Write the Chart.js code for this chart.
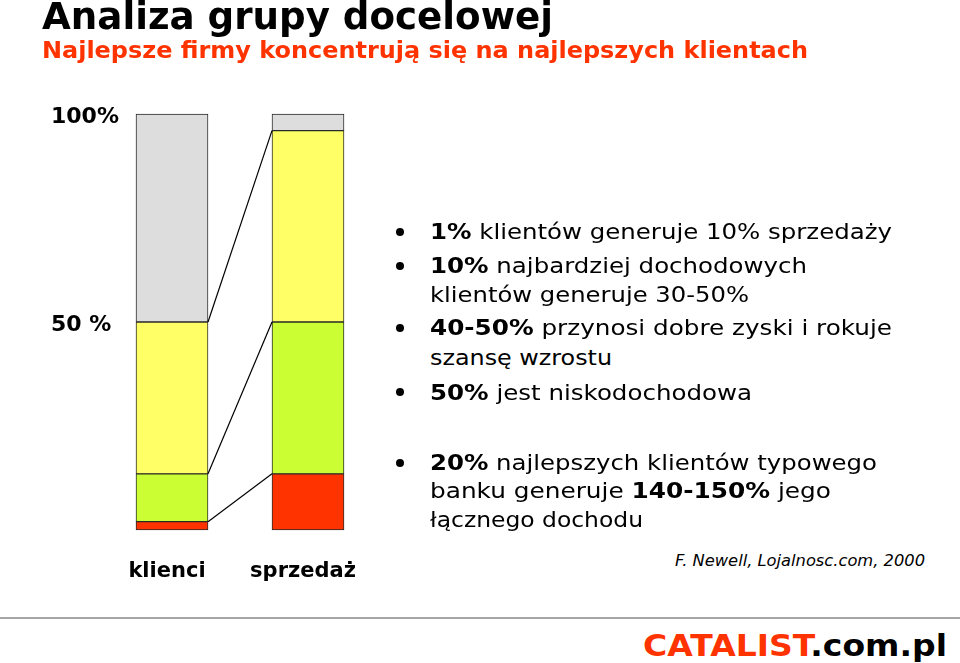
<!DOCTYPE html>
<html>
<head>
<meta charset="utf-8">
<script src="https://cdn.jsdelivr.net/npm/chart.js@4.4.1/dist/chart.umd.min.js"></script>
<style>
  html, body { margin: 0; padding: 0; background: #fff; }
  body { width: 960px; height: 663px; position: relative; overflow: hidden; font-family: "DejaVu Sans", Verdana, sans-serif; color: #000; }
  .t { position: absolute; white-space: nowrap; line-height: normal; transform-origin: 0 0; }
  .b { font-weight: bold; }
  .red { color: #ff3300; }
  .dot { position: absolute; width: 8px; height: 8px; border-radius: 50%; background: #000; }
  #wrap { position: absolute; left: 0; top: 0; width: 400px; height: 663px; }
  #rule { position: absolute; left: 0; top: 617px; width: 960px; height: 2px; background: #a6a6a6; }
</style>
</head>
<body>
<div id="wrap"><canvas id="c"></canvas></div>

<div class="t b" style="font-size:37px" data-x="42" data-b="29.5" data-w="511">Analiza grupy docelowej</div>
<div class="t b red" style="font-size:23px" data-x="42" data-b="58.5" data-w="766">Najlepsze firmy koncentrują się na najlepszych klientach</div>

<div class="dot" style="left:396px;top:228px"></div>
<div class="t" style="font-size:21px" data-x="430" data-b="239" data-w="462"><b>1%</b> klientów generuje 10% sprzedaży</div>
<div class="dot" style="left:396px;top:262px"></div>
<div class="t" style="font-size:21px" data-x="430" data-b="273" data-w="377"><b>10%</b> najbardziej dochodowych</div>
<div class="t" style="font-size:21px" data-x="430" data-b="302" data-w="319">klientów generuje 30-50%</div>
<div class="dot" style="left:396px;top:324px"></div>
<div class="t" style="font-size:21px" data-x="430" data-b="335" data-w="462"><b>40-50%</b> przynosi dobre zyski i rokuje</div>
<div class="t" style="font-size:21px" data-x="430" data-b="365" data-w="182">szansę wzrostu</div>
<div class="dot" style="left:396px;top:388px"></div>
<div class="t" style="font-size:21px" data-x="430" data-b="400" data-w="322"><b>50%</b> jest niskodochodowa</div>

<div class="dot" style="left:396px;top:459px"></div>
<div class="t" style="font-size:21px" data-x="430" data-b="470" data-w="447"><b>20%</b> najlepszych klientów typowego</div>
<div class="t" style="font-size:21px" data-x="430" data-b="498" data-w="401">banku generuje <b>140-150%</b> jego</div>
<div class="t" style="font-size:21px" data-x="430" data-b="527" data-w="213">łącznego dochodu</div>

<div class="t" style="font-size:16px;font-style:italic" data-x="675" data-b="566" data-w="250">F. Newell, Lojalnosc.com, 2000</div>

<div id="rule"></div>
<div class="t b" style="font-size:31px" data-x="643" data-b="655.5" data-w="304"><span class="red">CATALIST</span>.com.pl</div>

<script>
// ---- data ----
const categories = ['klienci', 'sprzedaż'];
const seriesNames = ['niskie', 'średnie', 'wysokie', 'najwyższe'];
const redValues    = [2, 13.5];    // bottom segment
const greenValues  = [11.5, 36.5];
const yellowValues = [36.5, 46];
const grayValues   = [50, 4];      // top segment
const yTickValues  = [50, 100];
const yTickLabels  = ['50 %', '100%'];

// ---- text placement (baseline + width fit) ----
document.querySelectorAll('.t').forEach(el => {
  const fs = parseFloat(el.style.fontSize);
  el.style.left = el.dataset.x + 'px';
  el.style.top = (parseFloat(el.dataset.b) - 0.928 * fs) + 'px';
});
function fitText() {
  document.querySelectorAll('.t').forEach(el => {
    el.style.transform = 'none';
    const w = el.getBoundingClientRect().width;
    el.style.transform = 'scaleX(' + (parseFloat(el.dataset.w) / w) + ')';
  });
}
fitText();
if (document.fonts && document.fonts.ready) document.fonts.ready.then(fitText);

// ---- chart ----
const colors = ['#ff3300', '#ccff33', '#ffff66', '#dddddd'];
const values = [redValues, greenValues, yellowValues, grayValues];

const connectors = {
  id: 'connectors',
  afterDatasetsDraw(chart) {
    const ctx = chart.ctx;
    ctx.save();
    ctx.strokeStyle = '#000';
    ctx.lineWidth = 1.2;
    for (let k = 0; k < 3; k++) {
      const els = chart.getDatasetMeta(k).data;
      const a = els[0], b = els[1];
      ctx.beginPath();
      ctx.moveTo(a.x + a.width / 2, a.y);
      ctx.lineTo(b.x - b.width / 2, b.y);
      ctx.stroke();
    }
    ctx.restore();
  }
};

new Chart(document.getElementById('c'), {
  type: 'bar',
  data: {
    labels: categories,
    datasets: values.map((v, i) => ({
      label: seriesNames[i],
      data: v,
      backgroundColor: colors[i],
      borderColor: '#2a2a2a',
      borderWidth: 1,
      borderSkipped: false,
      barThickness: 72,
      clip: false
    }))
  },
  options: {
    responsive: true,
    maintainAspectRatio: false,
    animation: false,
    layout: { padding: { left: 51, top: 114, right: 92, bottom: 73 } },
    plugins: { legend: { display: false }, tooltip: { enabled: false }, title: { display: false } },
    scales: {
      x: {
        stacked: true,
        offset: false,
        grid: { display: false, drawTicks: false },
        border: { display: false },
        ticks: { color: '#000', padding: 29, labelOffset: -5, font: { family: 'DejaVu Sans', size: 21, weight: 'bold' } },
        afterFit(s) { s.height = 60; }
      },
      y: {
        stacked: true,
        min: 0, max: 100,
        grid: { display: false, drawTicks: false },
        border: { display: false },
        afterBuildTicks(s) { s.ticks = yTickValues.map(v => ({ value: v })); },
        ticks: {
          crossAlign: 'far',
          labelOffset: 3,
          color: '#000',
          font: { family: 'DejaVu Sans', size: 22, weight: 'bold' },
          callback: (v, i) => yTickLabels[i]
        },
        afterFit(s) { s.width = 121; }
      }
    }
  },
  plugins: [connectors]
});
</script>
</body>
</html>
